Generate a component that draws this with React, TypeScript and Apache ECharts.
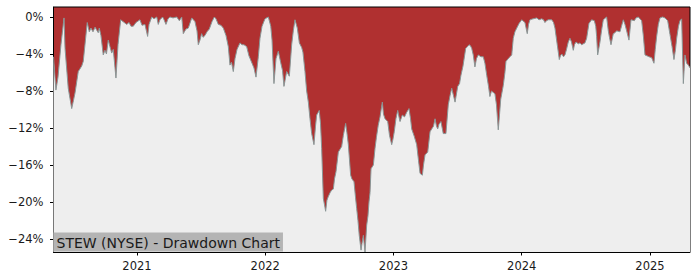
import React, { useEffect, useRef } from "react";
import * as echarts from "echarts";

// decimal year of each sample
const dates: number[] = [
  2020.349, 2020.368, 2020.384, 2020.407, 2020.431, 2020.439, 2020.464, 2020.491, 2020.505, 2020.517,
  2020.542, 2020.569, 2020.581, 2020.598, 2020.612, 2020.628, 2020.641, 2020.657, 2020.673, 2020.698,
  2020.706, 2020.719, 2020.737, 2020.750, 2020.762, 2020.776, 2020.789, 2020.803, 2020.815, 2020.836,
  2020.852, 2020.873, 2020.891, 2020.920, 2020.938, 2020.953, 2020.971, 2020.992, 2021.023, 2021.039,
  2021.062, 2021.083, 2021.094, 2021.115, 2021.133, 2021.154, 2021.166, 2021.179, 2021.200, 2021.211,
  2021.226, 2021.242, 2021.257, 2021.281, 2021.310, 2021.330, 2021.349, 2021.361, 2021.382, 2021.400,
  2021.427, 2021.452, 2021.468, 2021.478, 2021.491, 2021.504, 2021.515, 2021.530, 2021.546, 2021.564,
  2021.585, 2021.603, 2021.616, 2021.634, 2021.655, 2021.673, 2021.694, 2021.712, 2021.725, 2021.737,
  2021.751, 2021.764, 2021.780, 2021.803, 2021.819, 2021.834, 2021.855, 2021.873, 2021.897, 2021.912,
  2021.928, 2021.946, 2021.959, 2021.975, 2021.998, 2022.024, 2022.043, 2022.053, 2022.068, 2022.084,
  2022.102, 2022.120, 2022.135, 2022.146, 2022.167, 2022.188, 2022.206, 2022.219, 2022.232, 2022.250,
  2022.266, 2022.284, 2022.294, 2022.310, 2022.323, 2022.336, 2022.349, 2022.362, 2022.380, 2022.392,
  2022.401, 2022.421, 2022.431, 2022.440, 2022.453, 2022.471, 2022.481, 2022.492, 2022.505, 2022.518,
  2022.531, 2022.540, 2022.552, 2022.570, 2022.583, 2022.596, 2022.609, 2022.627, 2022.637, 2022.648,
  2022.666, 2022.676, 2022.692, 2022.704, 2022.713, 2022.723, 2022.733, 2022.747, 2022.754, 2022.765,
  2022.778, 2022.791, 2022.801, 2022.809, 2022.817, 2022.825, 2022.843, 2022.856, 2022.867, 2022.881,
  2022.895, 2022.913, 2022.922, 2022.934, 2022.955, 2022.969, 2022.986, 2022.996, 2023.006, 2023.019,
  2023.033, 2023.043, 2023.051, 2023.069, 2023.086, 2023.103, 2023.121, 2023.133, 2023.142, 2023.162,
  2023.181, 2023.195, 2023.207, 2023.225, 2023.234, 2023.246, 2023.267, 2023.285, 2023.298, 2023.312,
  2023.324, 2023.335, 2023.345, 2023.355, 2023.370, 2023.388, 2023.409, 2023.427, 2023.441, 2023.454,
  2023.468, 2023.480, 2023.501, 2023.515, 2023.526, 2023.542, 2023.563, 2023.577, 2023.589, 2023.600,
  2023.610, 2023.622, 2023.635, 2023.647, 2023.661, 2023.682, 2023.700, 2023.713, 2023.727, 2023.741,
  2023.752, 2023.764, 2023.773, 2023.791, 2023.803, 2023.817, 2023.827, 2023.836, 2023.856, 2023.869,
  2023.877, 2023.895, 2023.908, 2023.922, 2023.934, 2023.947, 2023.961, 2023.979, 2024.000, 2024.025,
  2024.043, 2024.053, 2024.064, 2024.088, 2024.117, 2024.135, 2024.156, 2024.170, 2024.181, 2024.193,
  2024.207, 2024.234, 2024.248, 2024.259, 2024.277, 2024.293, 2024.302, 2024.312, 2024.326, 2024.337,
  2024.349, 2024.363, 2024.376, 2024.388, 2024.402, 2024.411, 2024.423, 2024.441, 2024.454, 2024.467,
  2024.493, 2024.506, 2024.524, 2024.545, 2024.566, 2024.577, 2024.584, 2024.592, 2024.610, 2024.622,
  2024.636, 2024.662, 2024.675, 2024.684, 2024.696, 2024.714, 2024.727, 2024.740, 2024.766, 2024.778,
  2024.792, 2024.805, 2024.818, 2024.836, 2024.852, 2024.878, 2024.891, 2024.909, 2024.935, 2024.948,
  2024.961, 2024.977, 2024.992, 2025.013, 2025.031, 2025.041, 2025.052, 2025.065, 2025.078, 2025.098,
  2025.117, 2025.138, 2025.156, 2025.172, 2025.187, 2025.199, 2025.208, 2025.222, 2025.234, 2025.247,
  2025.260, 2025.273, 2025.286, 2025.299, 2025.312,
];

// drawdown in percent
const drawdown: number[] = [
  -4.3, -7.9, -6.5, -3.0, -0.1, -3.4, -7.7, -9.9, -9.0, -8.2,
  -5.9, -5.3, -4.8, -2.5, -0.6, -1.6, -1.2, -1.6, -1.1, -1.7,
  -1.2, -2.0, -4.1, -3.6, -4.0, -2.5, -3.2, -3.9, -3.5, -6.6,
  -3.0, -0.3, -0.5, -0.8, -0.6, -1.0, -1.0, -0.6, -0.3, -0.9,
  -0.8, -2.1, -0.8, 0, -0.2, 0, -0.8, -0.3, 0, -0.3,
  -0.8, -0.2, 0, -0.1, 0, -0.4, 0, -1.8, -1.3, -1.2,
  -0.1, -0.5, -1.5, -3.0, -2.5, -1.8, -2.2, -2.0, -1.6, -1.3,
  -0.5, 0, -0.2, -0.8, -0.9, -1.2, -2.0, -3.2, -5.2, -4.9,
  -5.9, -4.5, -3.5, -2.8, -3.0, -3.0, -3.2, -4.2, -5.0, -5.5,
  -6.5, -4.3, -2.3, -1.0, -0.2, 0, -1.0, -2.5, -7.2, -4.5,
  -3.7, -4.9, -5.8, -7.5, -5.9, -6.4, -3.0, -1.5, -0.3, -1.2,
  -2.8, -3.3, -3.8, -5.9, -8.0, -9.2, -11.0, -12.6, -13.8, -11.8,
  -10.6, -10.1, -11.5, -14.2, -19.6, -21.0, -19.8, -19.4, -19.0, -18.7,
  -18.6, -17.5, -16.7, -14.6, -14.3, -14.0, -12.8, -11.5, -12.5, -13.8,
  -17.1, -17.5, -17.8, -19.5, -20.7, -22.0, -23.6, -25.2, -24.5, -23.6,
  -25.4, -22.5, -21.5, -20.0, -19.0, -16.4, -16.0, -14.2, -13.0, -11.7,
  -10.8, -9.2, -10.5, -11.0, -11.3, -12.8, -13.8, -13.2, -12.4, -11.0,
  -10.1, -10.8, -11.3, -10.6, -10.8, -10.3, -9.9, -11.0, -12.1, -12.9,
  -13.8, -15.5, -16.9, -17.1, -16.0, -14.9, -14.6, -12.4, -12.1, -11.8,
  -11.0, -11.8, -12.1, -11.6, -11.3, -12.6, -12.6, -9.5, -8.5, -7.7,
  -8.5, -9.2, -7.5, -7.2, -6.3, -5.3, -3.4, -3.2, -3.0, -3.1,
  -3.4, -4.1, -5.4, -4.5, -4.1, -4.3, -4.3, -5.0, -6.3, -7.5,
  -8.6, -8.0, -8.1, -8.3, -9.5, -12.2, -10.5, -8.9, -7.4, -6.0,
  -4.8, -4.5, -4.3, -4.1, -2.3, -1.6, -1.2, -0.7, -0.3, -0.6,
  -1.8, -0.8, -0.3, -0.2, -0.1, -0.3, -0.2, -0.3, -0.6, -0.4,
  -0.3, -0.3, -0.6, -1.2, -3.0, -4.6, -4.2, -4.0, -4.3, -4.1,
  -3.5, -2.7, -2.3, -2.7, -3.6, -3.0, -2.7, -2.9, -2.8, -3.0,
  -2.8, -2.3, -0.7, -0.3, -0.4, -1.0, -2.1, -4.1, -2.7, -1.5,
  -0.3, 0, -1.5, -2.2, -3.0, -1.8, -1.7, -1.5, -1.6, -1.0,
  -0.3, -0.8, -1.5, -2.5, -0.3, -0.4, -0.1, 0, -0.4, -2.0,
  -4.1, -4.2, -4.3, -4.4, -5.0, -3.5, -2.1, -0.8, -0.1, 0,
  -0.1, -0.4, -1.9, -3.2, -4.6, -3.5, -2.3, -1.0, -0.4, -0.2,
  -7.2, -4.1, -5.0, -5.2, -5.5,
];

const yearTicks: number[] = [2021, 2022, 2023, 2024, 2025];
const pctTicks: number[] = [0, -4, -8, -12, -16, -20, -24];
const titleText = "STEW (NYSE) - Drawdown Chart";

export default function App() {
  const ref = useRef<HTMLDivElement>(null);
  useEffect(() => {
    if (!ref.current) return;
    const chart = echarts.init(ref.current, undefined, { renderer: "svg" });
    const font = "DejaVu Sans";
    const data = dates.map((d, i) => [d, drawdown[i]]);
    chart.setOption({
      animation: false,
      title: {
        text: titleText,
        left: 53.5,
        top: 232.5,
        backgroundColor: "#b4b4b4",
        padding: [2, 3, 1, 3],
        textStyle: {
          fontFamily: font,
          fontSize: 14,
          lineHeight: 16,
          fontWeight: "normal",
          color: "#1a1a1a",
        },
      },
      grid: {
        left: 53.5,
        right: 10,
        top: 7,
        bottom: 28,
        show: true,
        backgroundColor: "#b03030",
        borderColor: "#000",
        borderWidth: 1,
      },
      xAxis: {
        type: "value",
        min: 2020.349,
        max: 2025.312,
        splitLine: { show: false },
        axisLine: { show: true, onZero: false, lineStyle: { color: "#000", width: 1 } },
        axisTick: { show: true, customValues: yearTicks, length: 3.5, lineStyle: { color: "#000" } },
        axisLabel: {
          customValues: yearTicks,
          formatter: (v: number) => String(Math.round(v)),
          fontFamily: font,
          fontSize: 11.5,
          color: "#1a1a1a",
          margin: 8,
        },
      },
      yAxis: {
        type: "value",
        min: -25.4,
        max: 1.08,
        splitLine: { show: false },
        axisLine: { show: true, onZero: false, lineStyle: { color: "#000", width: 1 } },
        axisTick: { show: true, customValues: pctTicks, length: 3.5, lineStyle: { color: "#000" } },
        axisLabel: {
          customValues: pctTicks,
          formatter: (v: number) => (v < 0 ? "\u2212" + Math.abs(v) : String(Math.abs(v))) + "%",
          fontFamily: font,
          fontSize: 11.5,
          color: "#1a1a1a",
          margin: 10,
        },
      },
      series: [
        {
          type: "line",
          data,
          showSymbol: false,
          symbol: "none",
          lineStyle: { color: "#8a9696", width: 1 },
          areaStyle: { color: "#eeeeee", opacity: 1, origin: "start" },
          z: 2,
        },
      ],
    });
    return () => chart.dispose();
  }, []);
  return (
    <div
      ref={ref}
      style={{ position: "absolute", left: 0, top: 0, width: 700, height: 280 }}
    />
  );
}
